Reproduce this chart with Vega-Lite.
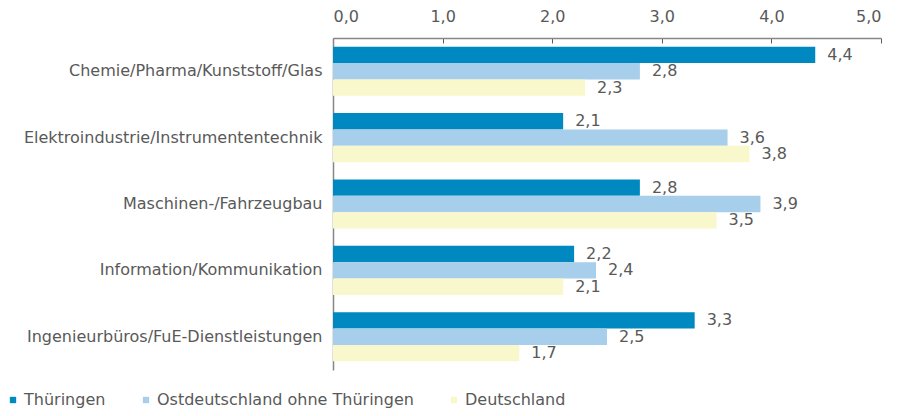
{
  "$schema": "https://vega.github.io/schema/vega-lite/v6.json",
  "width": 548,
  "height": 332,
  "autosize": {"type": "none"},
  "padding": {"left": 333, "top": 38, "right": 18, "bottom": 46},
  "background": "white",
  "config": {
    "locale": {"number": {"decimal": ",", "thousands": ".", "grouping": [3], "currency": ["", " €"]}},
    "view": {"stroke": null},
    "font": "DejaVu Sans"
  },
  "data": {
    "values": [
      {"branche": "Chemie/Pharma/Kunststoff/Glas", "region": "Thüringen", "wert": 4.4},
      {"branche": "Chemie/Pharma/Kunststoff/Glas", "region": "Ostdeutschland ohne Thüringen", "wert": 2.8},
      {"branche": "Chemie/Pharma/Kunststoff/Glas", "region": "Deutschland", "wert": 2.3},
      {"branche": "Elektroindustrie/Instrumententechnik", "region": "Thüringen", "wert": 2.1},
      {"branche": "Elektroindustrie/Instrumententechnik", "region": "Ostdeutschland ohne Thüringen", "wert": 3.6},
      {"branche": "Elektroindustrie/Instrumententechnik", "region": "Deutschland", "wert": 3.8},
      {"branche": "Maschinen-/Fahrzeugbau", "region": "Thüringen", "wert": 2.8},
      {"branche": "Maschinen-/Fahrzeugbau", "region": "Ostdeutschland ohne Thüringen", "wert": 3.9},
      {"branche": "Maschinen-/Fahrzeugbau", "region": "Deutschland", "wert": 3.5},
      {"branche": "Information/Kommunikation", "region": "Thüringen", "wert": 2.2},
      {"branche": "Information/Kommunikation", "region": "Ostdeutschland ohne Thüringen", "wert": 2.4},
      {"branche": "Information/Kommunikation", "region": "Deutschland", "wert": 2.1},
      {"branche": "Ingenieurbüros/FuE-Dienstleistungen", "region": "Thüringen", "wert": 3.3},
      {"branche": "Ingenieurbüros/FuE-Dienstleistungen", "region": "Ostdeutschland ohne Thüringen", "wert": 2.5},
      {"branche": "Ingenieurbüros/FuE-Dienstleistungen", "region": "Deutschland", "wert": 1.7}
    ]
  },
  "encoding": {
    "y": {
      "field": "branche",
      "type": "nominal",
      "sort": ["Chemie/Pharma/Kunststoff/Glas", "Elektroindustrie/Instrumententechnik", "Maschinen-/Fahrzeugbau", "Information/Kommunikation", "Ingenieurbüros/FuE-Dienstleistungen"],
      "scale": {"paddingInner": 0.26, "paddingOuter": 0.13},
      "axis": {
        "title": null,
        "ticks": false,
        "domainColor": "#868686",
        "domainWidth": 1.5,
        "labelPadding": 11,
        "labelFontSize": 16,
        "labelColor": "#595959",
        "labelLimit": 400
      }
    },
    "yOffset": {
      "field": "region",
      "type": "nominal",
      "sort": ["Thüringen", "Ostdeutschland ohne Thüringen", "Deutschland"]
    },
    "x": {
      "field": "wert",
      "type": "quantitative",
      "scale": {"domain": [0, 5], "nice": false},
      "axis": {
        "orient": "top",
        "title": null,
        "values": [0, 1, 2, 3, 4, 5],
        "format": ".1f",
        "grid": false,
        "domainColor": "#868686",
        "domainWidth": 1.5,
        "tickColor": "#595959",
        "tickSize": -5,
        "labelPadding": 19,
        "labelFontSize": 16,
        "labelColor": "#595959"
      }
    }
  },
  "layer": [
    {
      "mark": {"type": "bar"},
      "encoding": {
        "color": {
          "field": "region",
          "type": "nominal",
          "sort": ["Thüringen", "Ostdeutschland ohne Thüringen", "Deutschland"],
          "scale": {
            "domain": ["Thüringen", "Ostdeutschland ohne Thüringen", "Deutschland"],
            "range": ["#0088C0", "#A7CEEA", "#F8F8CC"]
          },
          "legend": {
            "title": null,
            "orient": "none",
            "legendX": -328,
            "legendY": 354,
            "direction": "horizontal",
            "symbolType": "square",
            "symbolSize": 40,
            "symbolStrokeWidth": 0,
            "labelFontSize": 16,
            "labelColor": "#595959",
            "labelOffset": 3,
            "labelLimit": 400,
            "columnPadding": 32,
            "padding": 0
          }
        }
      }
    },
    {
      "mark": {"type": "text", "align": "left", "baseline": "middle", "dx": 12, "fontSize": 16, "color": "#595959"},
      "encoding": {
        "text": {"field": "wert", "type": "quantitative", "format": ".1f"}
      }
    }
  ]
}
